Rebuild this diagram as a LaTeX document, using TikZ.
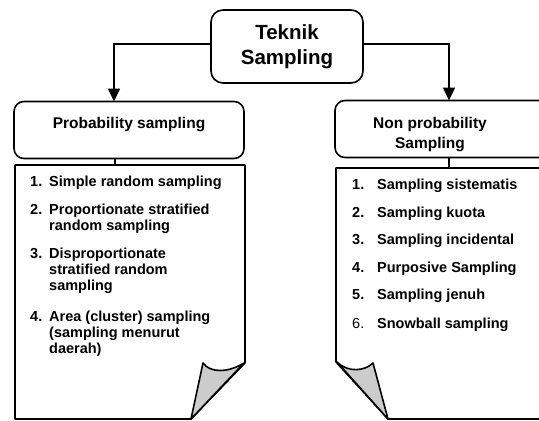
\documentclass[tikz,border=0pt]{standalone}
\usepackage{fontspec}
\setmainfont{Liberation Sans}
\usetikzlibrary{arrows.meta}

\newcommand{\titlefont}{\fontsize{20.5}{25}\bfseries\selectfont}
\newcommand{\boxfont}{\fontsize{15.5}{20}\bfseries\selectfont}
\newcommand{\listfont}{\fontsize{14.5}{16.3}\bfseries\selectfont}

\tikzset{
  frame/.style={draw, line width=1.6pt, rounded corners=10pt},
  arr/.style={line width=1.6pt, -{Triangle[length=13pt,width=12pt]}},
  link/.style={line width=1.4pt},
  sheet/.style={draw, line width=1.6pt, line join=round, fill=white},
  curl/.style={draw, line width=1.6pt, line join=round, fill=gray!40},
  entry/.style={anchor=base west, inner sep=0pt, font=\listfont},
}

\begin{document}
\begin{tikzpicture}[x=1pt, y=-1pt]
\useasboundingbox (0,0) rectangle (539,421);
\clip (0,0) rectangle (539,421);

% heading
\node[frame, rounded corners=12pt, minimum width=152pt, minimum height=73pt, align=center, font=\titlefont]
  (title) at (287,46.5) {Teknik\\Sampling};

% the two branches
\node[frame, minimum width=230pt, minimum height=57pt] (probbox) at (129,130) {};
\node[font=\boxfont, anchor=base, inner sep=0pt] (problabel) at (129,128) {Probability sampling};

\node[frame, minimum width=215pt, minimum height=57pt] (nonbox) at (442.5,129) {};
\node[font=\boxfont, anchor=base, inner sep=0pt] (nonlabel1) at (430,128) {Non probability};
\node[font=\boxfont, anchor=base, inner sep=0pt] (nonlabel2) at (430,148) {Sampling};

\coordinate (probin) at (114,101.5);
\coordinate (nonin) at (449,100.5);
\draw[arr] ([yshift=2.5pt]title.west) -| (probin);
\draw[arr] ([yshift=2.5pt]title.east) -| (nonin);

% left sheet with curled lower right corner
\coordinate (probtop) at (115,165);
\draw[sheet] (15,165) -- (245,165) -- (245,363) -- (191,419) -- (15,419) -- cycle;
\draw[curl] (244,363) .. controls (228,373) and (210,373) .. (203,363) -- (191,419) -- cycle;
\draw[link] (115,158.5) -- (probtop);

% right sheet with curled lower left corner
\coordinate (nontop) at (449,168);
\draw[sheet] (336,168) -- (560,168) -- (560,419) -- (388,419) -- (336,362) -- cycle;
\draw[curl] (337,362) .. controls (348,373) and (365,371) .. (373,363) -- (388,419) -- cycle;
\draw[link] (449,157.5) -- (nontop);

% probability sampling list
\node[entry] (p1n) at (30,186) {1.};
\node[entry] (p1a) at (49,186) {Simple random sampling};
\node[entry] (p2n) at (30,214) {2.};
\node[entry] (p2a) at (49,214) {Proportionate stratified};
\node[entry] (p2b) at (49,230) {random sampling};
\node[entry] (p3n) at (30,258) {3.};
\node[entry] (p3a) at (49,258) {Disproportionate};
\node[entry] (p3b) at (49,274) {stratified random};
\node[entry] (p3c) at (49,290) {sampling};
\node[entry] (p4n) at (30,321) {4.};
\node[entry] (p4a) at (49,321) {Area (cluster) sampling};
\node[entry] (p4b) at (49,337) {(sampling menurut};
\node[entry] (p4c) at (49,353) {daerah)};

% non probability sampling list
\node[entry] (n1n) at (352,189) {1.};
\node[entry] (n1a) at (377,189) {Sampling sistematis};
\node[entry] (n2n) at (352,217) {2.};
\node[entry] (n2a) at (377,217) {Sampling kuota};
\node[entry] (n3n) at (352,244) {3.};
\node[entry] (n3a) at (377,244) {Sampling incidental};
\node[entry] (n4n) at (352,272) {4.};
\node[entry] (n4a) at (377,272) {Purposive Sampling};
\node[entry] (n5n) at (352,299) {5.};
\node[entry] (n5a) at (377,299) {Sampling jenuh};
\node[entry, font=\fontsize{14.5}{16.3}\mdseries\selectfont] (n6n) at (352,328) {6.};
\node[entry] (n6a) at (377,328) {Snowball sampling};
\end{tikzpicture}
\end{document}
